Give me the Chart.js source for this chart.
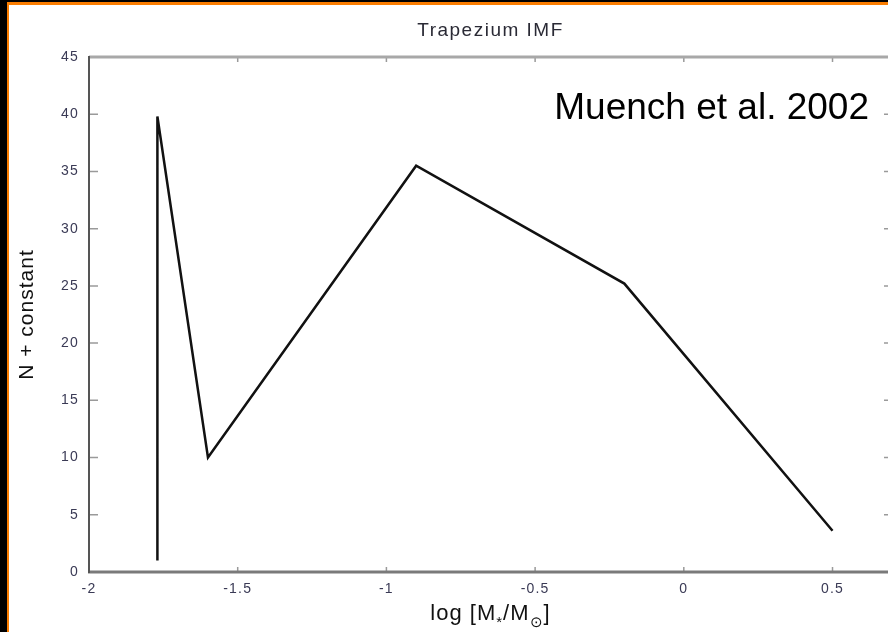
<!DOCTYPE html>
<html><head><meta charset="utf-8">
<script src="https://cdn.jsdelivr.net/npm/chart.js@4.4.1/dist/chart.umd.min.js"></script>
<style>
html,body{margin:0;padding:0;background:#000;width:888px;height:632px;overflow:hidden;}
#panel{position:absolute;left:7px;top:2px;width:900px;height:700px;background:#fff;border-left:2px solid #fb7d00;border-top:3px solid #fb7d00;}
#c{position:absolute;left:0;top:0;}
</style></head><body>
<div id="panel"></div>
<canvas id="c" width="900" height="632"></canvas>
<script>
const TITLE = 'Trapezium IMF';
const ANNOTATION = 'Muench et al. 2002';
const Y_TITLE = 'N + constant';
const X_TITLE_PARTS = [['log [M', false], ['*', true], ['/M', false], ['\u2299', true], [']', false]];
const X_VALUES = [-1.77, -1.77, -1.6, -0.9, -0.2, 0.5];
const Y_VALUES = [1, 39.8, 10, 35.5, 25.2, 3.6];
const X_TICKS = [-2, -1.5, -1, -0.5, 0, 0.5];
const X_TICK_LABELS = ['-2', '-1.5', '-1', '-0.5', '0', '0.5'];
const Y_TICKS = [0, 5, 10, 15, 20, 25, 30, 35, 40, 45];
const Y_TICK_LABELS = ['0', '5', '10', '15', '20', '25', '30', '35', '40', '45'];

const FONT = "'Liberation Sans', Arial, sans-serif";

const framePlugin = {
  id: 'frame',
  beforeDraw(chart) {
    chart.ctx.letterSpacing = '1.2px';
  },
  afterDatasetsDraw(chart) {
    const ctx = chart.ctx;
    const a = chart.chartArea;
    const xs = chart.scales.x, ys = chart.scales.y;
    ctx.save();
    ctx.lineCap = 'butt';
    ctx.strokeStyle = '#9a9a9a';
    ctx.lineWidth = 1.5;
    ctx.beginPath();
    Y_TICKS.forEach(v => {
      const p = ys.getPixelForValue(v);
      ctx.moveTo(a.left, p); ctx.lineTo(a.left + 9, p);
      ctx.moveTo(a.right, p); ctx.lineTo(a.right - 8, p);
    });
    X_TICKS.forEach(v => {
      const p = xs.getPixelForValue(v);
      ctx.moveTo(p, a.bottom); ctx.lineTo(p, a.bottom - 5);
      ctx.moveTo(p, a.top); ctx.lineTo(p, a.top + 5);
    });
    ctx.stroke();
    ctx.lineWidth = 3;
    ctx.strokeStyle = '#a8a8a8';
    ctx.beginPath(); ctx.moveTo(a.left, a.top); ctx.lineTo(a.right + 2, a.top); ctx.stroke();
    ctx.strokeStyle = '#7a7a7a';
    ctx.beginPath(); ctx.moveTo(a.left - 1, a.bottom); ctx.lineTo(a.right + 2, a.bottom); ctx.stroke();
    ctx.beginPath(); ctx.moveTo(a.right, a.top); ctx.lineTo(a.right, a.bottom); ctx.stroke();
    ctx.lineWidth = 2;
    ctx.strokeStyle = '#555';
    ctx.beginPath(); ctx.moveTo(a.left, a.top - 1); ctx.lineTo(a.left, a.bottom + 1); ctx.stroke();
    ctx.restore();
  },
  afterDraw(chart) {
    const ctx = chart.ctx;
    const a = chart.chartArea;
    const cx = (a.left + a.right) / 2;
    ctx.save();
    ctx.letterSpacing = '1.5px';
    ctx.fillStyle = '#2a2a35';
    ctx.font = '19px ' + FONT;
    ctx.textAlign = 'center';
    ctx.textBaseline = 'alphabetic';
    ctx.fillText(TITLE, cx, 36);
    ctx.save();
    ctx.translate(27, (a.top + a.bottom) / 2);
    ctx.rotate(-Math.PI / 2);
    ctx.letterSpacing = '1px';
    ctx.font = '21px ' + FONT;
    ctx.fillStyle = '#111';
    ctx.textBaseline = 'middle';
    ctx.fillText(Y_TITLE, 0, 0);
    ctx.restore();
    ctx.letterSpacing = '1px';
    ctx.textAlign = 'left';
    ctx.fillStyle = '#111';
    let total = 0;
    const widths = X_TITLE_PARTS.map(([t, sub]) => {
      ctx.font = (sub ? '15px ' : '22px ') + FONT;
      const w = ctx.measureText(t).width;
      total += w;
      return w;
    });
    let x = cx - total / 2;
    X_TITLE_PARTS.forEach(([t, sub], i) => {
      ctx.font = (sub ? '15px ' : '22px ') + FONT;
      ctx.fillText(t, x, sub ? 627 : 620);
      x += widths[i];
    });
    ctx.letterSpacing = '0px';
    ctx.font = '37px ' + FONT;
    ctx.fillStyle = '#000';
    ctx.textAlign = 'right';
    ctx.fillText(ANNOTATION, 869, 119);
    ctx.restore();
  }
};

new Chart(document.getElementById('c'), {
  type: 'line',
  data: {
    datasets: [{
      data: X_VALUES.map((x, i) => ({ x, y: Y_VALUES[i] })),
      borderColor: '#111',
      borderWidth: 2.5,
      pointRadius: 0,
      tension: 0,
      fill: false
    }]
  },
  options: {
    responsive: false,
    animation: false,
    devicePixelRatio: 1,
    layout: { padding: { top: 57, right: 8, bottom: 0, left: 0 } },
    plugins: { legend: { display: false }, title: { display: false }, tooltip: { enabled: false } },
    scales: {
      x: {
        type: 'linear',
        min: -2, max: 0.7,
        afterBuildTicks: s => { s.ticks = X_TICKS.map(v => ({ value: v })); },
        afterFit: s => { s.height = 60; },
        grid: { display: false, drawTicks: false },
        border: { display: false },
        ticks: {
          padding: 9,
          color: '#3a3a55',
          font: { family: FONT, size: 14 },
          maxRotation: 0,
          autoSkip: false,
          callback: (v) => X_TICK_LABELS[X_TICKS.indexOf(v)] ?? ''
        }
      },
      y: {
        min: 0, max: 45,
        afterBuildTicks: s => { s.ticks = Y_TICKS.map(v => ({ value: v })); },
        afterFit: s => { s.width = 89; },
        grid: { display: false, drawTicks: false },
        border: { display: false },
        ticks: {
          padding: 10,
          color: '#3a3a55',
          font: { family: FONT, size: 14 },
          autoSkip: false,
          callback: (v) => Y_TICK_LABELS[Y_TICKS.indexOf(v)] ?? ''
        }
      }
    }
  },
  plugins: [framePlugin]
});
</script>
</body></html>
